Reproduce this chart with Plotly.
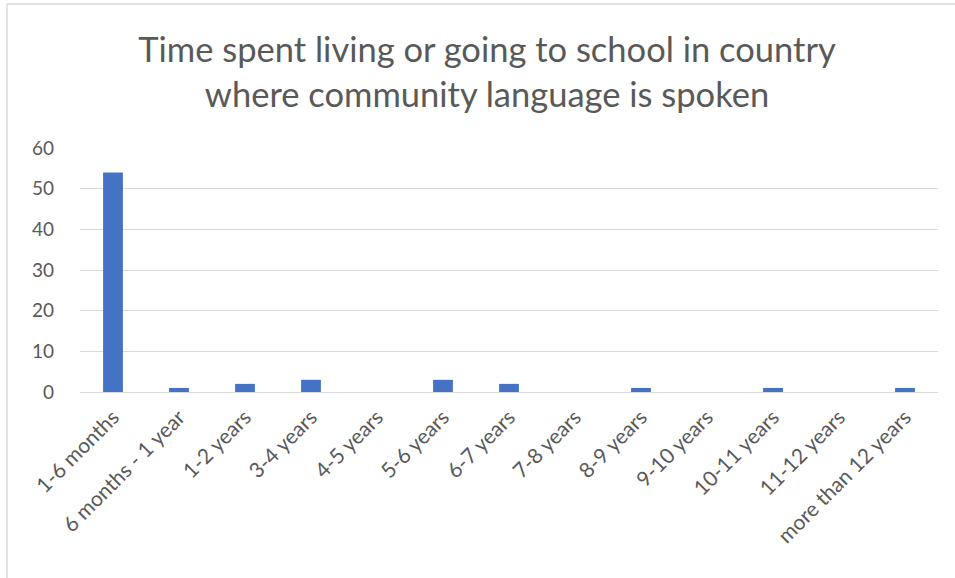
import plotly.graph_objects as go

categories = [
    "1-6 months", "6 months - 1 year", "1-2 years", "3-4 years", "4-5 years",
    "5-6 years", "6-7 years", "7-8 years", "8-9 years", "9-10 years",
    "10-11 years", "11-12 years", "more than 12 years",
]
counts = [54, 1, 2, 3, 0, 3, 2, 0, 1, 0, 1, 0, 1]
y_ticks = [0, 10, 20, 30, 40, 50, 60]

W, H = 955, 578
L, R, T, B = 80, 17, 148, 186
pw, ph = W - L - R, H - T - B

def px_x(x):
    return (x - L) / pw

def px_y(y):
    return (H - B - y) / ph

fig = go.Figure(go.Bar(
    x=categories, y=counts,
    marker=dict(color="#4472C4", line=dict(width=0)),
))

font = "Lato, 'Open Sans', sans-serif"
fig.update_layout(
    width=W, height=H,
    margin=dict(l=L, r=R, t=T, b=B),
    paper_bgcolor="white", plot_bgcolor="white",
    bargap=0.7,
    showlegend=False,
    title=dict(
        text="Time spent living or going to school in country<br>where community language is spoken",
        x=487 / W, xref="container", xanchor="center",
        y=1 - 62 / H, yanchor="middle",
        font=dict(family=font, size=34.5, color="#595959"),
    ),
    xaxis=dict(
        tickangle=-45, showgrid=False, showline=False, ticks="",
        ticklabelstandoff=8,
        tickfont=dict(family=font, size=21, color="#595959"),
    ),
    yaxis=dict(
        range=[0, 60], tickvals=y_ticks, showgrid=True, gridcolor="#d9d9d9",
        gridwidth=1, zeroline=True, zerolinecolor="#d9d9d9", zerolinewidth=1,
        showline=False, ticks="", ticklabelstandoff=25,
        tickfont=dict(family=font, size=19, color="#595959"),
    ),
    shapes=[
        dict(type="line", xref="paper", yref="paper",
             x0=px_x(7), x1=px_x(7), y0=px_y(4), y1=px_y(H + 5),
             line=dict(color="#d9d9d9", width=1.5)),
        dict(type="line", xref="paper", yref="paper",
             x0=px_x(7), x1=px_x(W + 5), y0=px_y(4), y1=px_y(4),
             line=dict(color="#d9d9d9", width=1.5)),
    ],
)

fig.write_html("out.html")
